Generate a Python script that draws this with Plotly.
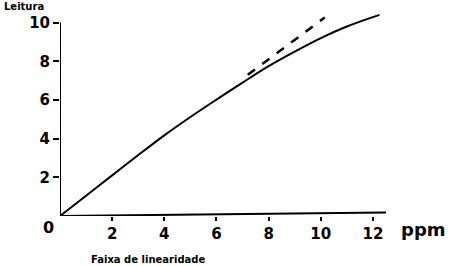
import plotly.graph_objects as go

curve_x = [0, 1, 2, 3, 4, 5, 6, 7, 8, 9, 10, 11, 12.25]
curve_y = [0, 1.05, 2.1, 3.15, 4.17, 5.12, 6.02, 6.9, 7.75, 8.5, 9.2, 9.8, 10.4]
dash_x = [7.2, 10.15]
dash_y = [7.3, 10.26]
x_ticks = [2, 4, 6, 8, 10, 12]
y_ticks = [2, 4, 6, 8, 10]

FONT = "DejaVu Sans"

fig = go.Figure()
fig.add_trace(go.Scatter(x=curve_x, y=curve_y, mode="lines",
                         line=dict(color="black", width=2, shape="spline", smoothing=1.0),
                         showlegend=False))
fig.add_trace(go.Scatter(x=dash_x, y=dash_y, mode="lines",
                         line=dict(color="black", width=2.5, dash="dash"),
                         showlegend=False))

# axis lines
fig.add_shape(type="line", x0=0, y0=0, x1=0, y1=10, xref="x", yref="y",
              line=dict(color="black", width=2))
fig.add_shape(type="line", x0=0, y0=0, x1=12.55, y1=0.18, xref="x", yref="y",
              line=dict(color="black", width=2))

fig.update_xaxes(range=[0, 12.5], tickvals=x_ticks, ticktext=[str(v) for v in x_ticks],
                 ticks="outside", ticklen=4, tickwidth=2, tickcolor="black",
                 showgrid=False, zeroline=False, showline=False,
                 tickfont=dict(family=FONT, size=15, color="black", weight="bold"))
fig.update_yaxes(range=[0, 10.6], tickvals=y_ticks, ticktext=[str(v) for v in y_ticks],
                 ticks="outside", ticklen=6, tickwidth=2, tickcolor="black",
                 showgrid=False, zeroline=False, showline=False,
                 tickfont=dict(family=FONT, size=15, color="black", weight="bold"))

fig.update_layout(
    width=457, height=266,
    margin=dict(l=60, r=71, t=11, b=50),
    paper_bgcolor="white", plot_bgcolor="white",
    annotations=[
        dict(text="0", x=-0.035, y=-0.055, xref="paper", yref="paper", showarrow=False,
             xanchor="center", yanchor="middle",
             font=dict(family=FONT, size=16, color="black", weight="bold")),
        dict(text="Leitura", x=-0.178, y=1.02, xref="paper", yref="paper", showarrow=False,
             xanchor="left", yanchor="middle",
             font=dict(family=FONT, size=10, color="black", weight="bold")),
        dict(text="ppm", x=1.04, y=-0.065, xref="paper", yref="paper", showarrow=False,
             xanchor="left", yanchor="middle",
             font=dict(family=FONT, size=18, color="black", weight="bold")),
        dict(text="Faixa de linearidade", x=0.09, y=-0.21, xref="paper", yref="paper",
             showarrow=False, xanchor="left", yanchor="middle",
             font=dict(family=FONT, size=10, color="black", weight="bold")),
    ],
)

fig.write_html("out.html")
